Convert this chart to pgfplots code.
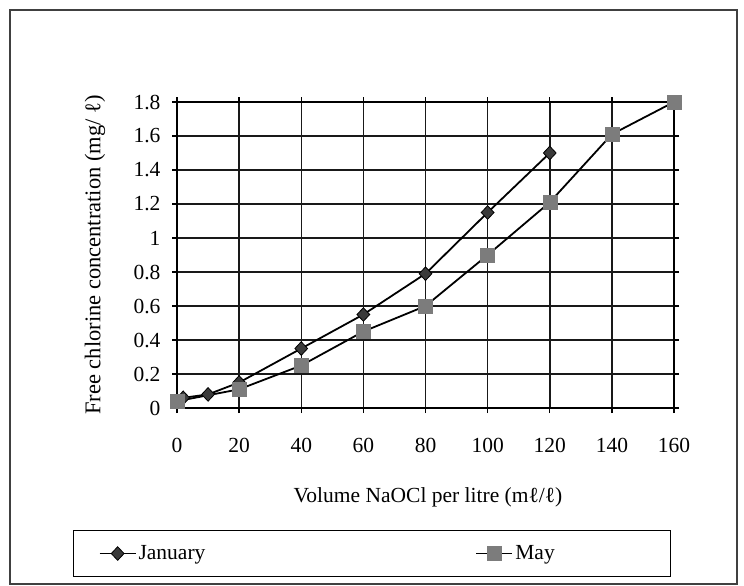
\documentclass[border=0pt]{standalone}
\usepackage{fontspec}
\setmainfont{Liberation Serif}
\usepackage{pgfplots}
\pgfplotsset{compat=1.18}
\definecolor{janfill}{HTML}{3A3A3A}
\definecolor{mayfill}{HTML}{7C7C7C}
\begin{document}
\begin{tikzpicture}[font=\fontsize{21.5}{25}\selectfont]
\useasboundingbox (0pt,0pt) rectangle (744pt,-586pt);
\fill[white] (0pt,0pt) rectangle (744pt,-586pt);
\draw[line width=1.2pt, black!75] (10pt,-10pt) rectangle (737pt,-584pt);
\begin{axis}[
  at={(177pt,-408pt)}, anchor=south west,
  scale only axis, width=497pt, height=306pt,
  xmin=0, xmax=160, ymin=0, ymax=1.8,
  xtick={0,20,...,160},
  ytick={0,0.2,...,1.8},
  grid=major,
  major grid style={line width=1.5pt, black!90},
  axis line style={line width=1.6pt, black},
  tick style={line width=1.4pt, black},
  tick align=outside, major tick length=5pt,
  /pgf/number format/assume math mode=true,
  ticklabel style={font=\fontsize{21.5}{25}\selectfont},
  xticklabel style={yshift=-22pt},
  yticklabel style={xshift=-8pt},
  xlabel={Volume NaOCl per litre (mℓ/ℓ)},
  ylabel={Free chlorine concentration (mg/ ℓ)},
  xlabel style={at={(axis description cs:0.505,-0.291)}, anchor=center, font=\fontsize{21.5}{25}\selectfont},
  ylabel style={at={(axis description cs:-0.165,0.5)}, anchor=center, font=\fontsize{22.5}{25}\selectfont},
  legend columns=2,
  legend style={at={(axis description cs:-0.209,-0.399)}, anchor=north west,
    draw=black, line width=1.3pt, inner xsep=25pt, inner ysep=13pt,
    font=\fontsize{21.5}{25}\selectfont,
    /tikz/every even column/.append style={column sep=0pt}},
  legend image code/.code={%
    \draw[#1, mark=none] (0pt,0pt) -- (36pt,0pt);
    \draw[#1, line width=1pt] plot coordinates {(18pt,0pt)};},
]
\addplot[black, line width=1.8pt, mark=diamond*, mark size=6.8pt,
  mark options={fill=janfill, draw=black, line width=0.8pt, xscale=1.25}]
  coordinates {(2,0.06) (10,0.08) (20,0.15) (40,0.35) (60,0.55) (80,0.79) (100,1.15) (120,1.50)};
\addlegendentry{\makebox[335pt][l]{January}}
\addplot[black, line width=1.8pt, mark=square*, mark size=7pt,
  mark options={fill=mayfill, draw=mayfill, line width=0.5pt}]
  coordinates {(0,0.04) (20,0.11) (40,0.25) (60,0.45) (80,0.60) (100,0.90) (120,1.21) (140,1.61) (160,1.80)};
\addlegendentry{\makebox[128pt][l]{May}}
\end{axis}
\end{tikzpicture}
\end{document}
